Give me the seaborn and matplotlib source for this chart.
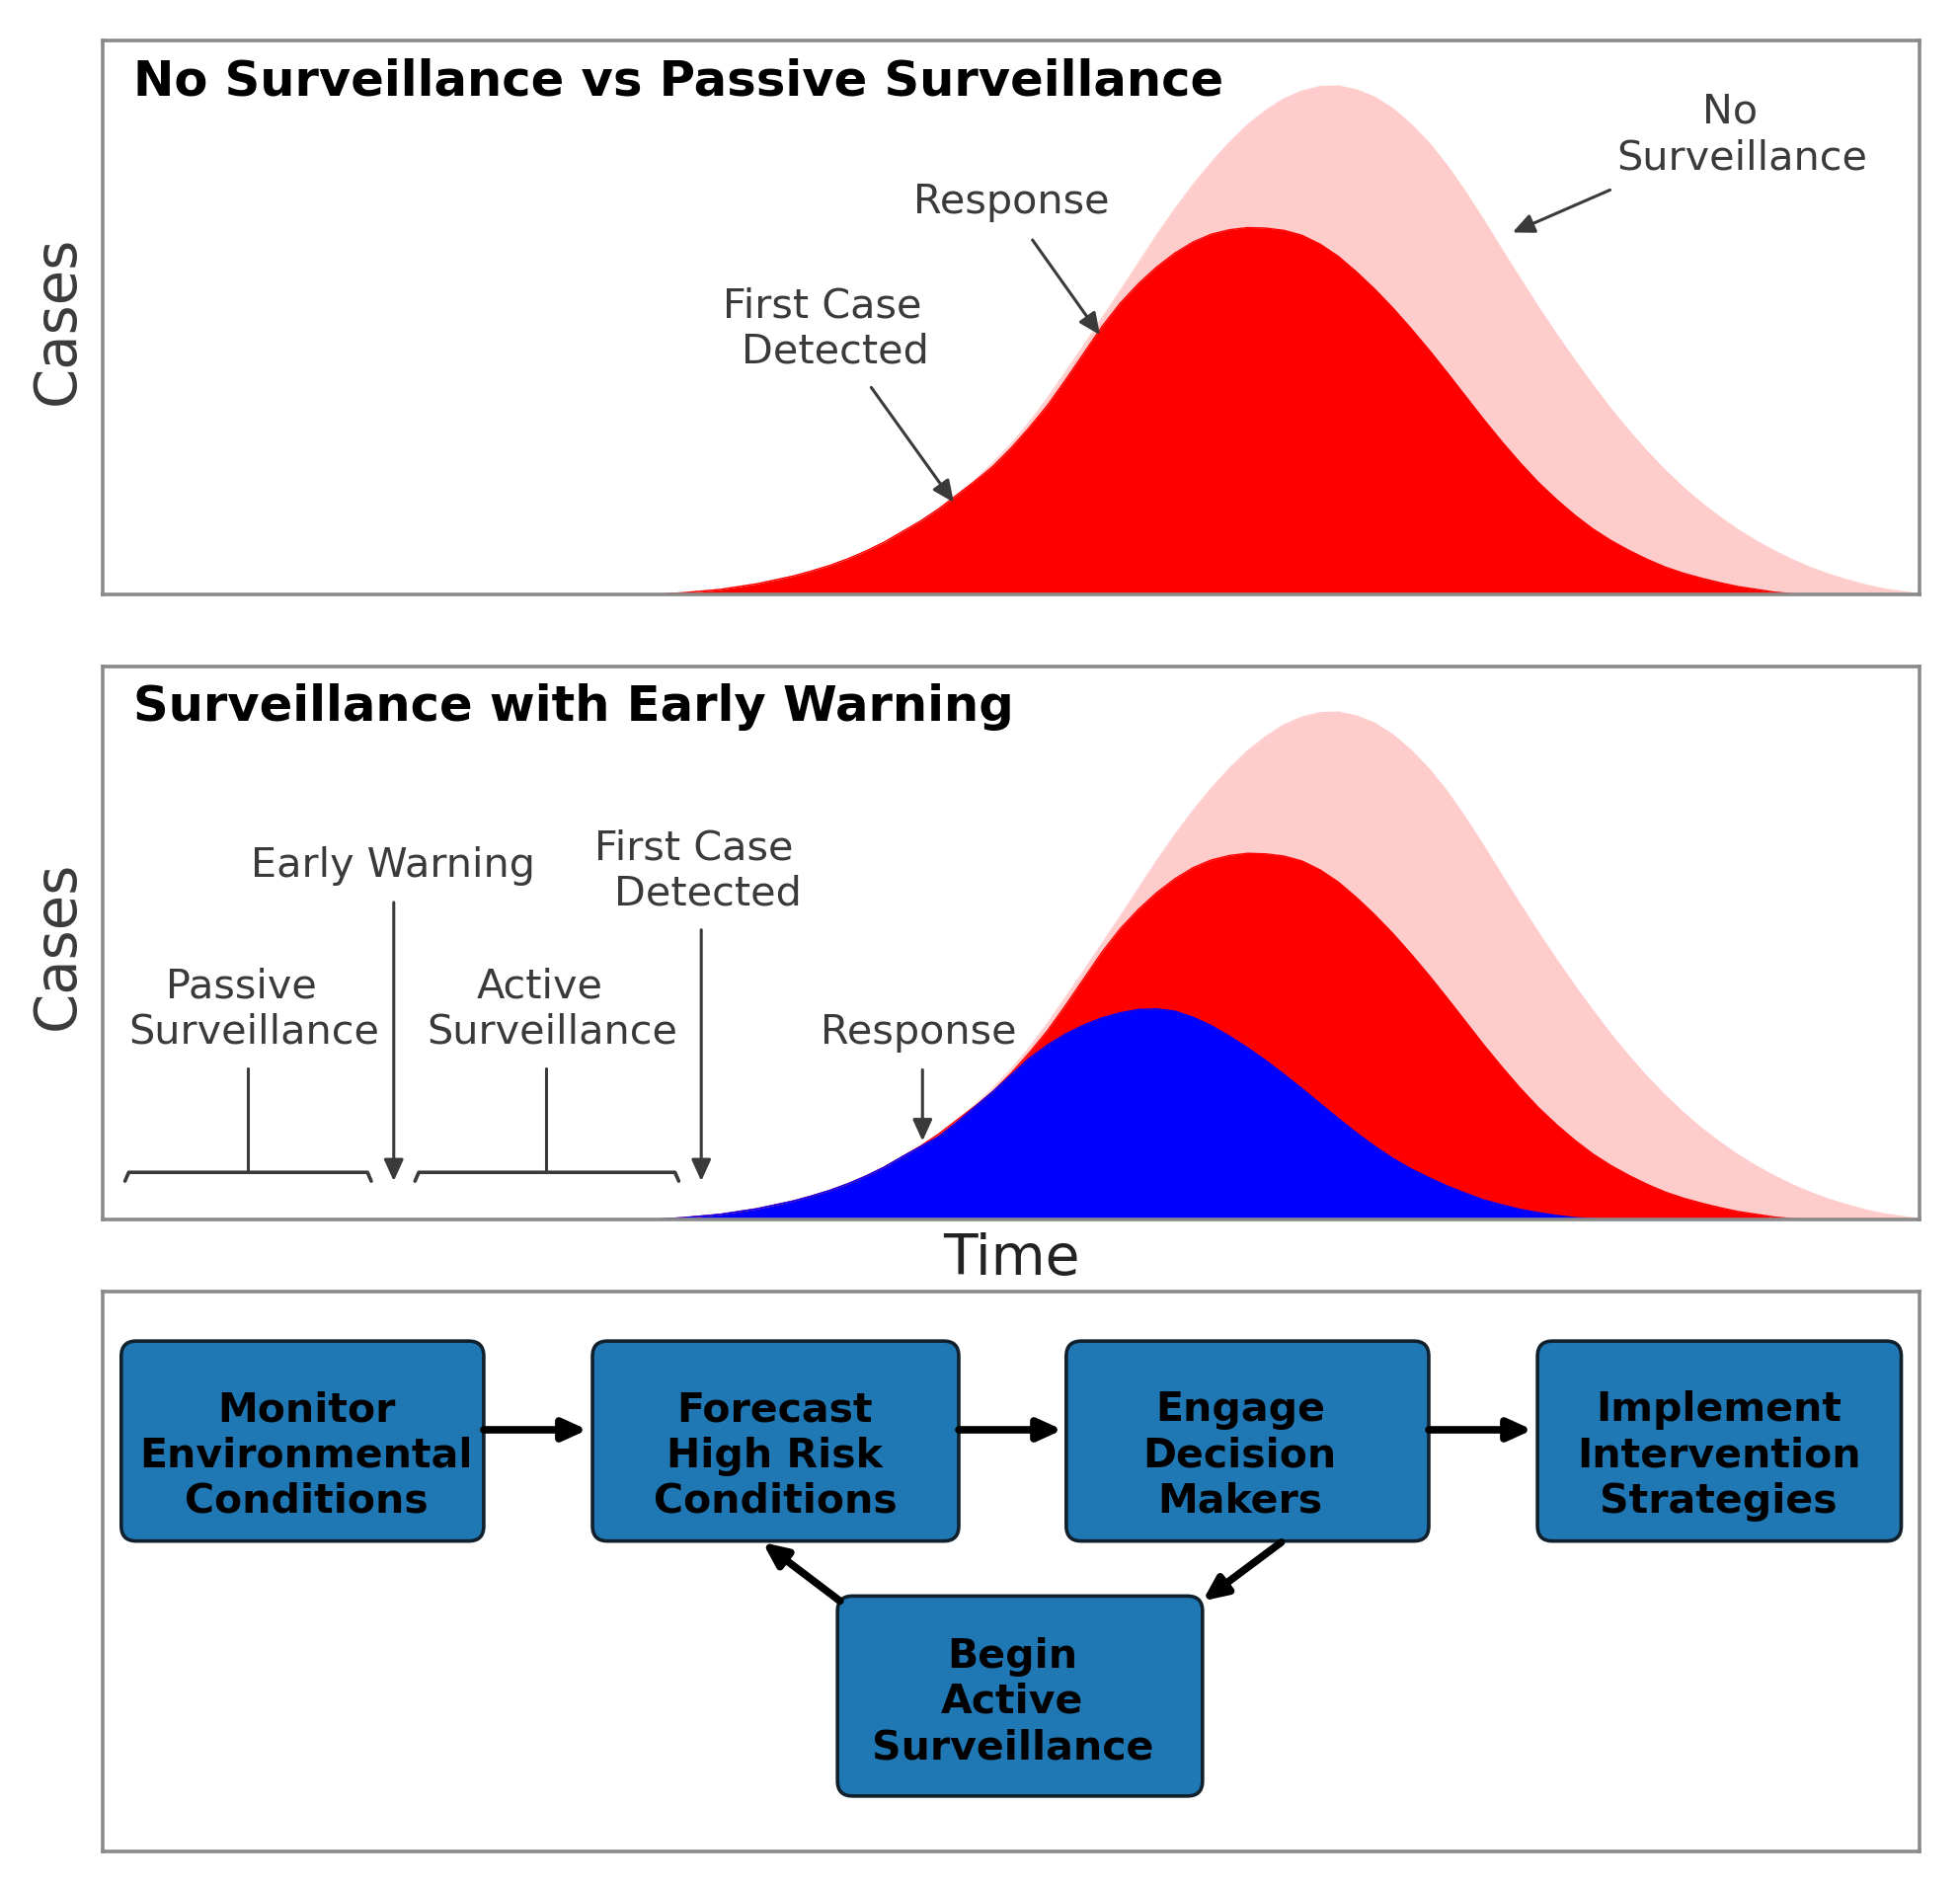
import numpy as np
import matplotlib
matplotlib.use('Agg')
import matplotlib.pyplot as plt
from matplotlib.patches import FancyBboxPatch
import seaborn as sns

time = list(range(30, 101))
no_surveillance = [0.0, 0.002, 0.004, 0.007, 0.010, 0.015, 0.020, 0.027, 0.034, 0.043,
                   0.053, 0.065, 0.079, 0.095, 0.114, 0.133, 0.155, 0.180, 0.207, 0.238,
                   0.272, 0.311, 0.355, 0.402, 0.450, 0.499, 0.548, 0.598, 0.648, 0.695,
                   0.739, 0.779, 0.815, 0.847, 0.873, 0.894, 0.908, 0.916, 0.917, 0.910,
                   0.897, 0.876, 0.848, 0.814, 0.773, 0.726, 0.675, 0.622, 0.570, 0.519,
                   0.470, 0.423, 0.378, 0.335, 0.295, 0.258, 0.224, 0.193, 0.165, 0.140,
                   0.117, 0.097, 0.079, 0.063, 0.049, 0.037, 0.027, 0.018, 0.011, 0.006, 0.002]
passive = [0.0, 0.002, 0.004, 0.007, 0.010, 0.015, 0.020, 0.027, 0.034, 0.043,
           0.053, 0.065, 0.079, 0.095, 0.114, 0.133, 0.155, 0.180, 0.205, 0.232,
           0.265, 0.302, 0.342, 0.388, 0.436, 0.484, 0.526, 0.561, 0.591, 0.616,
           0.636, 0.650, 0.658, 0.662, 0.661, 0.657, 0.648, 0.632, 0.610, 0.582,
           0.551, 0.517, 0.480, 0.441, 0.400, 0.358, 0.316, 0.276, 0.238, 0.203,
           0.172, 0.144, 0.119, 0.098, 0.080, 0.064, 0.050, 0.039, 0.030, 0.022,
           0.015, 0.010, 0.005, 0.002, 0.0, 0.0, 0.0, 0.0, 0.0, 0.0, 0.0]
early_warning = [0.0, 0.002, 0.004, 0.007, 0.010, 0.015, 0.020, 0.027, 0.034, 0.043,
                 0.053, 0.065, 0.079, 0.095, 0.114, 0.132, 0.150, 0.176, 0.204, 0.232,
                 0.262, 0.292, 0.316, 0.336, 0.352, 0.365, 0.374, 0.380, 0.381, 0.377,
                 0.366, 0.351, 0.332, 0.311, 0.288, 0.263, 0.237, 0.210, 0.183, 0.157,
                 0.133, 0.111, 0.092, 0.076, 0.061, 0.048, 0.036, 0.027, 0.019, 0.013,
                 0.008, 0.004, 0.002, 0.0, 0.0, 0.0, 0.0, 0.0, 0.0, 0.0,
                 0.0, 0.0, 0.0, 0.0, 0.0, 0.0, 0.0, 0.0, 0.0, 0.0, 0.0]

panel_titles = ['No Surveillance vs Passive Surveillance', 'Surveillance with Early Warning']
box_labels = ['Monitor\nEnvironmental\nConditions', 'Forecast\nHigh Risk\nConditions',
              'Engage\nDecision\nMakers', 'Implement\nIntervention\nStrategies',
              'Begin\nActive\nSurveillance']

sns.set_theme(style='white')
plt.rcParams['font.family'] = ['DejaVu Sans']

W, H = 1568.0, 1509.0  # layout below is measured on this scale
PINK, RED, BLUE = '#ffcccc', '#ff0000', '#0000ff'
GREY = '#8a8a8a'
INK = '#3a3a3a'

fig = plt.figure(figsize=(19.85, 19.10), dpi=100, facecolor='white')


def panel(left, top, right, bottom):
    ax = fig.add_axes([left / W, 1 - bottom / H, (right - left) / W, (bottom - top) / H])
    ax.set_xticks([])
    ax.set_yticks([])
    for s in ax.spines.values():
        s.set_color(GREY)
        s.set_linewidth(2.6)
    return ax


def curve(ax, y, color):
    sns.lineplot(x=time, y=y, color=color, linewidth=1, estimator=None, ax=ax)
    ax.fill_between(time, y, 0, color=color, linewidth=0)


ax1 = panel(82, 32, 1536, 476)
ax2 = panel(82, 533, 1536, 976)
ax3 = panel(82, 1033, 1536, 1481)

for ax, series in [(ax1, [(no_surveillance, PINK), (passive, RED)]),
                   (ax2, [(no_surveillance, PINK), (passive, RED), (early_warning, BLUE)])]:
    for y, c in series:
        curve(ax, y, c)
    ax.set_xlim(0, 100)
    ax.set_ylim(0, 1)
    ax.set_xticks([])
    ax.set_yticks([])

# overlay for notes and the flow chart
ov = fig.add_axes([0, 0, 1, 1], facecolor='none')
ov.set_xlim(0, W)
ov.set_ylim(H, 0)
ov.axis('off')

ov.text(46, 256, 'Cases', fontsize=41.5, color=INK, rotation=90, ha='center', va='center')
ov.text(46, 756, 'Cases', fontsize=41.5, color=INK, rotation=90, ha='center', va='center')
ov.text(809, 1008, 'Time', fontsize=40.8, color='#222222', ha='center', va='center')

ov.text(107, 65, panel_titles[0], fontsize=35.7, fontweight='bold', color='black', va='center')
ov.text(107, 566, panel_titles[1], fontsize=35.7, fontweight='bold', color='black', va='center')

notes = [('First Case', 658, 245), ('Detected', 668, 282), ('Response', 809, 162),
         ('No', 1384, 90), ('Surveillance', 1394, 127),
         ('Early Warning', 314, 693), ('First Case', 555, 679), ('Detected', 566, 715),
         ('Passive', 193, 790), ('Surveillance', 203, 826),
         ('Active', 432, 790), ('Surveillance', 442, 826), ('Response', 735, 826)]
for s, x, y in notes:
    ov.text(x, y, s, fontsize=29.8, color=INK, ha='center', va='center')


def arrow(x0, y0, x1, y1, color=INK, lw=2.2, ms=24):
    ov.annotate('', xy=(x1, y1), xytext=(x0, y0),
                arrowprops=dict(arrowstyle='-|>,head_length=0.55,head_width=0.25', color=color,
                                lw=lw, mutation_scale=ms, shrinkA=0, shrinkB=0))


arrow(697, 310, 763, 402)
arrow(826, 192, 880, 268)
arrow(1288, 152, 1210, 186)
arrow(315, 722, 315, 945)
arrow(561, 744, 561, 945)
arrow(738, 856, 738, 913)

# brackets under the surveillance phases
for x0, x1, xm in [(100, 297, 198), (332, 543, 437)]:
    ov.plot([x0, x0 + 3, x1 - 3, x1], [945, 938, 938, 945], color=INK, lw=2.6)
    ov.plot([xm, xm], [855, 938], color=INK, lw=2.2)

boxes = [(97, 1073, 387, 1233, 245, 1165), (474, 1073, 767, 1233, 620, 1165),
         (853, 1073, 1143, 1233, 992, 1165), (1230, 1073, 1521, 1233, 1375, 1165),
         (670, 1277, 962, 1437, 810, 1362)]
for (x0, y0, x1, y1, tx, ty), label in zip(boxes, box_labels):
    ov.add_patch(FancyBboxPatch((x0 + 10, y0 + 10), x1 - x0 - 20, y1 - y0 - 20,
                                boxstyle='round,pad=10,rounding_size=12',
                                facecolor='#1f77b4', edgecolor='#10202c', linewidth=2.6))
    ov.text(tx, ty, label, fontsize=29.5, fontweight='bold', color='black',
            ha='center', va='center', linespacing=1.2)

for x0, x1 in [(387, 470), (767, 850), (1143, 1226)]:
    arrow(x0, 1144, x1, 1144, color='black', lw=5.5, ms=26)
arrow(672, 1281, 610, 1234, color='black', lw=5.5, ms=26)
arrow(1025, 1234, 962, 1281, color='black', lw=5.5, ms=26)

fig.savefig('out.png', dpi=100)
